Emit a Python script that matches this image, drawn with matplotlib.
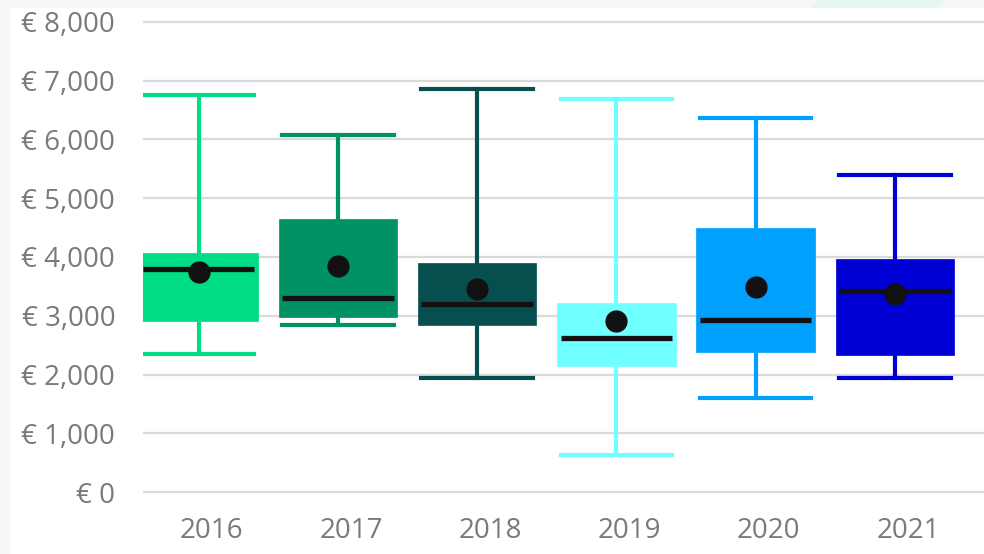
import matplotlib
matplotlib.use("Agg")
import matplotlib.pyplot as plt
from matplotlib.patches import Rectangle, Polygon
from matplotlib.ticker import FuncFormatter
from matplotlib.transforms import ScaledTranslation

# data
years = ["2016", "2017", "2018", "2019", "2020", "2021"]
minimum = [2350, 2840, 1940, 630, 1600, 1940]
q1 = [2910, 2980, 2840, 2145, 2385, 2330]
median = [3800, 3300, 3200, 2620, 2930, 3420]
mean = [3745, 3850, 3455, 2910, 3490, 3370]
q3 = [4070, 4650, 3900, 3220, 4495, 3965]
maximum = [6760, 6080, 6860, 6690, 6370, 5400]
colors = ["#00dd85", "#009165", "#074f4f", "#70ffff", "#00a0ff", "#0000d4"]

plt.rcParams['font.family'] = ['Open Sans', 'DejaVu Sans']

fig = plt.figure(figsize=(9.84, 5.54), dpi=100)
fig.patch.set_facecolor("#f7f7f7")
fig.patches.append(Rectangle((10 / 984, 0), 1, 1 - 8 / 554, transform=fig.transFigure,
                             facecolor="white", edgecolor="none", zorder=-10))
fig.patches.append(Polygon([(810 / 984, 1 - 8 / 554), (937 / 984, 1 - 8 / 554),
                            (945 / 984, 1), (820 / 984, 1)], closed=True,
                           transform=fig.transFigure, facecolor="#e6f7ee",
                           edgecolor="none", zorder=-9))

ax = fig.add_axes([143 / 984, 56.1 / 554, 1 - 143 / 984, 0.8697])
ax.set_facecolor("none")

stats = []
for i, y in enumerate(years):
    stats.append({
        "label": y, "whislo": minimum[i], "q1": q1[i], "med": median[i],
        "q3": q3[i], "whishi": maximum[i], "mean": mean[i],
    })

positions = list(range(len(years)))
bp = ax.bxp(stats, positions=positions, widths=0.85, capwidths=0.8,
            patch_artist=True, showmeans=True, showfliers=False,
            meanprops=dict(marker="o", markersize=15, markerfacecolor="#111111",
                           markeredgecolor="#111111"),
            medianprops=dict(visible=False))

for i, c in enumerate(colors):
    bp["boxes"][i].set_facecolor(c)
    bp["boxes"][i].set_edgecolor(c)
    bp["boxes"][i].set_linewidth(0.5)
    bp["boxes"][i].set_zorder(2)
    for line in bp["whiskers"][2 * i:2 * i + 2] + bp["caps"][2 * i:2 * i + 2]:
        line.set_color(c)
        line.set_linewidth(3)
        line.set_zorder(1.5)
    bp["means"][i].set_zorder(4)

ax.hlines(median, [p - 0.4 for p in positions], [p + 0.4 for p in positions],
          colors="#111111", linewidth=3.8, zorder=3)

ax.set_xlim(-0.4, 5.64)
ax.set_ylim(-100, 8100)
ax.set_yticks(range(0, 8001, 1000))
ax.yaxis.set_major_formatter(FuncFormatter(lambda v, p: f"€ {int(v):,}"))
ax.set_xticks(positions)
ax.set_xticklabels(years)

ax.grid(axis="y", color="#dadada", linewidth=1.6, zorder=0)
ax.set_axisbelow(True)
for s in ax.spines.values():
    s.set_visible(False)
ax.tick_params(axis="both", length=0, labelsize=20, labelcolor="#7a7a7a")
ax.tick_params(axis="y", pad=20)
ax.tick_params(axis="x", pad=14)

# the year labels sit a little right of the box centres in the reference
shift = ScaledTranslation(0.13, 0, fig.dpi_scale_trans)
for lbl in ax.get_xticklabels():
    lbl.set_transform(lbl.get_transform() + shift)

fig.savefig("out.png", dpi=100)
